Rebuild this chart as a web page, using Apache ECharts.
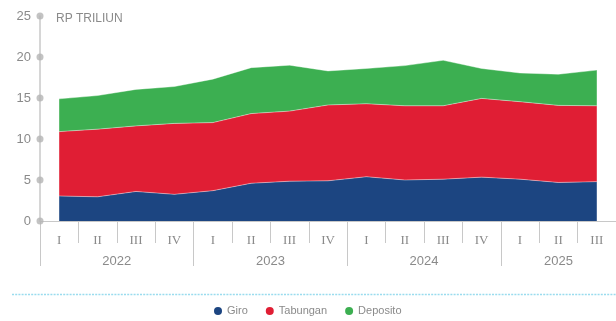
<!DOCTYPE html>
<html>
<head>
<meta charset="utf-8">
<script src="https://cdn.jsdelivr.net/npm/echarts@6/dist/echarts.min.js"></script>
<style>
  html, body { margin: 0; padding: 0; background: #fff; }
  #chart { width: 616px; height: 321px; }
</style>
</head>
<body>
<div id="chart"></div>
<script>
// Quarterly balances, Rp trillion
const quarters = ['I', 'II', 'III', 'IV', 'I', 'II', 'III', 'IV', 'I', 'II', 'III', 'IV', 'I', 'II', 'III'];
const years = ['2022', '2023', '2024', '2025'];
const yearStarts = [0, 4, 8, 12];
const yearCenters = [2, 6, 10, 13.5];
const giro     = [3.05, 2.95, 3.6, 3.25, 3.7, 4.6, 4.85, 4.9, 5.4, 5.0, 5.1, 5.35, 5.1, 4.7, 4.8];
const tabungan = [7.85, 8.25, 8.0, 8.65, 8.3, 8.5, 8.55, 9.25, 8.9, 9.05, 8.95, 9.6, 9.45, 9.4, 9.25];
const deposito = [4.0, 4.1, 4.45, 4.5, 5.3, 5.6, 5.6, 4.15, 4.3, 4.9, 5.55, 3.65, 3.5, 3.8, 4.35];
const yTicks = [0, 5, 10, 15, 20, 25];

const FONT = '"Liberation Sans", Arial, sans-serif';
const SERIF = '"Liberation Serif", "DejaVu Serif", serif';
const GRAY = '#8a8a8a';
const AXIS = '#c8c8c8';

const chart = echarts.init(document.getElementById('chart'), null, { renderer: 'canvas' });

function areaSeries(name, data, color) {
  return {
    name: name,
    type: 'line',
    stack: 'total',
    data: data,
    symbol: 'none',
    smooth: false,
    lineStyle: { width: 0.8, color: 'rgba(255,255,255,0.5)' },
    areaStyle: { color: color, opacity: 1 },
    itemStyle: { color: color },
    xAxisIndex: 0,
    yAxisIndex: 0,
    z: 2
  };
}

chart.setOption({
  animation: false,
  textStyle: { fontFamily: FONT },
  title: {
    text: 'RP TRILIUN',
    left: 51,
    top: 8,
    textStyle: { fontFamily: FONT, fontSize: 12, fontWeight: 'normal', color: GRAY }
  },
  grid: { left: 40, right: 0, top: 16, bottom: 100, containLabel: false },
  legend: {
    data: ['Giro', 'Tabungan', 'Deposito'],
    top: 300.5,
    left: 209,
    icon: 'circle',
    itemWidth: 8,
    itemHeight: 8,
    itemGap: 18,
    textStyle: { fontFamily: FONT, fontSize: 11, color: GRAY }
  },
  xAxis: [
    {
      type: 'category',
      data: quarters,
      boundaryGap: true,
      position: 'bottom',
      axisLine: { show: true, lineStyle: { color: AXIS, width: 1 } },
      axisTick: { show: true, interval: 0, length: 22, lineStyle: { color: AXIS } },
      axisLabel: { interval: 0, margin: 13, fontFamily: SERIF, fontSize: 13, color: GRAY }
    },
    {
      type: 'value',
      min: 0,
      max: 15,
      position: 'bottom',
      axisLine: { show: false },
      splitLine: { show: false },
      axisTick: { show: true, length: 45, customValues: yearStarts, lineStyle: { color: AXIS } },
      axisLabel: {
        customValues: yearCenters,
        margin: 34,
        fontFamily: FONT,
        fontSize: 13,
        color: GRAY,
        formatter: function (v) {
          const i = yearCenters.indexOf(v);
          return i >= 0 ? years[i] : '';
        }
      }
    }
  ],
  yAxis: {
    type: 'value',
    min: 0,
    max: 25,
    interval: 5,
    axisLine: { show: true, lineStyle: { color: AXIS, width: 1.5 } },
    axisTick: { show: false },
    splitLine: { show: false },
    axisLabel: { margin: 9, fontFamily: FONT, fontSize: 13, color: GRAY }
  },
  series: [
    areaSeries('Giro', giro, '#1c4581'),
    areaSeries('Tabungan', tabungan, '#e01e34'),
    areaSeries('Deposito', deposito, '#3caf51'),
    {
      // round markers on the value axis at each tick
      name: 'ticks',
      type: 'scatter',
      xAxisIndex: 1,
      yAxisIndex: 0,
      data: yTicks.map(function (t) { return [0, t]; }),
      symbol: 'circle',
      symbolSize: 7,
      clip: false,
      itemStyle: { color: '#b4b4b4' },
      silent: true,
      z: 5
    }
  ],
  graphic: [
    {
      type: 'line',
      shape: { x1: 12, y1: 294.5, x2: 616, y2: 294.5 },
      style: { stroke: '#9adcee', lineWidth: 1.6, lineDash: [2, 1.2] },
      silent: true
    }
  ]
});
</script>
</body>
</html>
